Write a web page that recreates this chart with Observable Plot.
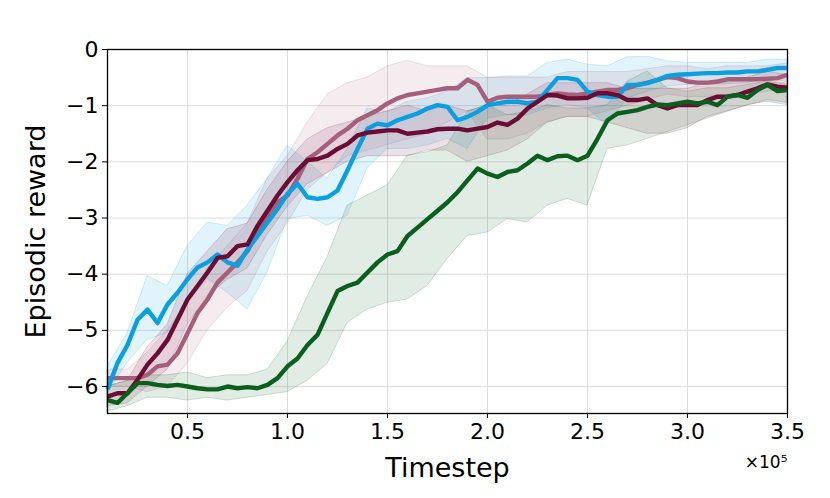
<!DOCTYPE html>
<html>
<head>
<meta charset="utf-8">
<script src="https://cdn.jsdelivr.net/npm/d3@7"></script>
<script src="https://cdn.jsdelivr.net/npm/@observablehq/plot@0.6"></script>
<style>
  html, body { margin: 0; padding: 0; background: #fff; }
  #chart { width: 830px; height: 498px; }
</style>
</head>
<body>
<div id="chart"></div>
<script>
// Timesteps (×10^5) for the mean curves
const lineT = [0.10,0.15,0.20,0.25,0.30,0.35,0.40,0.45,0.50,0.55,0.60,0.65,0.70,0.75,0.80,0.85,0.90,0.95,
  1.00,1.05,1.10,1.15,1.20,1.25,1.30,1.35,1.40,1.45,1.50,1.55,1.60,1.65,1.70,1.75,1.80,1.85,1.90,1.95,
  2.00,2.05,2.10,2.15,2.20,2.25,2.30,2.35,2.40,2.45,2.50,2.55,2.60,2.65,2.70,2.75,2.80,2.85,2.90,2.95,
  3.00,3.05,3.10,3.15,3.20,3.25,3.30,3.35,3.40,3.45,3.50];

const blueMean = [-6.05,-5.58,-5.26,-4.81,-4.63,-4.87,-4.54,-4.33,-4.09,-3.88,-3.79,-3.65,-3.79,-3.85,-3.56,-3.32,-3.08,-2.84,
  -2.57,-2.39,-2.63,-2.66,-2.63,-2.51,-2.15,-1.77,-1.41,-1.32,-1.35,-1.26,-1.20,-1.14,-1.05,-0.99,-1.02,-1.26,-1.20,-1.11,
  -0.99,-0.96,-0.93,-0.93,-0.96,-0.93,-0.72,-0.51,-0.51,-0.54,-0.75,-0.81,-0.84,-0.84,-0.63,-0.63,-0.60,-0.54,-0.47,-0.45,
  -0.44,-0.43,-0.42,-0.42,-0.41,-0.41,-0.39,-0.39,-0.36,-0.33,-0.33];

const maroonMean = [-6.18,-6.12,-6.12,-5.88,-5.61,-5.41,-5.17,-4.81,-4.45,-4.21,-3.97,-3.71,-3.68,-3.50,-3.47,-3.14,-2.87,-2.60,
  -2.36,-2.15,-1.97,-1.95,-1.89,-1.77,-1.68,-1.53,-1.48,-1.46,-1.44,-1.44,-1.50,-1.48,-1.46,-1.42,-1.41,-1.41,-1.44,-1.41,
  -1.38,-1.30,-1.34,-1.23,-1.05,-0.93,-0.81,-0.82,-0.87,-0.87,-0.86,-0.78,-0.78,-0.81,-0.90,-0.90,-0.87,-0.99,-1.05,-0.99,
  -0.99,-0.99,-0.90,-0.84,-0.84,-0.81,-0.75,-0.69,-0.62,-0.66,-0.68];

const mauveMean = [-5.85,-5.85,-5.85,-5.85,-5.79,-5.64,-5.61,-5.41,-5.05,-4.69,-4.45,-4.15,-3.97,-3.79,-3.59,-3.23,-2.96,-2.72,
  -2.60,-2.30,-1.95,-1.83,-1.68,-1.53,-1.41,-1.26,-1.17,-1.08,-0.96,-0.87,-0.81,-0.78,-0.75,-0.72,-0.69,-0.69,-0.54,-0.63,
  -0.93,-0.86,-0.84,-0.84,-0.84,-0.84,-0.81,-0.78,-0.80,-0.81,-0.78,-0.75,-0.72,-0.72,-0.69,-0.63,-0.59,-0.54,-0.49,-0.51,
  -0.57,-0.59,-0.59,-0.57,-0.53,-0.53,-0.53,-0.53,-0.52,-0.51,-0.45];

const greenMean = [-6.24,-6.29,-6.12,-5.94,-5.94,-5.97,-5.99,-5.97,-6.00,-6.03,-6.05,-6.05,-6.00,-6.03,-6.01,-6.03,-5.97,-5.85,
  -5.64,-5.50,-5.26,-5.08,-4.69,-4.30,-4.21,-4.15,-3.97,-3.79,-3.65,-3.59,-3.32,-3.17,-3.02,-2.87,-2.72,-2.54,-2.33,-2.12,
  -2.21,-2.27,-2.18,-2.15,-2.03,-1.89,-1.97,-1.90,-1.89,-1.97,-1.89,-1.59,-1.26,-1.14,-1.11,-1.08,-1.02,-0.98,-0.99,-0.96,
  -0.93,-0.96,-0.93,-0.99,-0.84,-0.81,-0.86,-0.72,-0.63,-0.74,-0.72];

// Timesteps (×10^5) for the shaded spread bands
const bandT = [0.1,0.2,0.3,0.4,0.5,0.6,0.7,0.8,0.9,1.0,1.1,1.2,1.3,1.4,1.5,1.6,1.7,1.8,1.9,2.0,
  2.1,2.2,2.3,2.4,2.5,2.6,2.7,2.8,2.9,3.0,3.1,3.2,3.3,3.4,3.5];

const blueLo = [-6.12,-5.58,-5.17,-5.05,-4.51,-4.09,-4.33,-4.63,-3.97,-3.02,-2.96,-3.14,-2.96,-2.12,-1.77,-1.77,-1.71,-1.59,-1.77,-1.23,
  -1.17,-1.17,-1.05,-0.99,-1.05,-1.35,-0.87,-0.75,-0.66,-0.63,-0.63,-0.62,-0.60,-0.51,-0.51];
const blueHi = [-5.65,-5.05,-4.03,-4.21,-3.50,-3.08,-3.14,-2.78,-2.30,-1.71,-2.00,-2.30,-1.77,-1.05,-1.11,-0.93,-0.87,-0.75,-0.51,-0.51,
  -0.48,-0.48,-0.24,-0.18,-0.27,-0.30,-0.14,-0.13,-0.21,-0.24,-0.24,-0.24,-0.24,-0.18,-0.18];

const maroonLo = [-6.35,-6.30,-6.00,-5.70,-4.90,-4.40,-4.10,-3.90,-3.30,-2.80,-2.40,-2.20,-2.00,-1.90,-1.90,-1.90,-1.80,-1.80,-2.00,-1.90,
  -1.80,-1.60,-1.30,-1.20,-1.20,-1.30,-1.40,-1.50,-1.50,-1.40,-1.20,-1.10,-1.00,-0.90,-0.95];
const maroonHi = [-6.00,-5.90,-5.30,-4.90,-4.00,-3.60,-3.20,-3.10,-2.50,-2.00,-1.60,-1.40,-1.30,-1.20,-1.10,-1.00,-1.10,-1.00,-1.10,-1.00,
  -1.00,-0.80,-0.60,-0.60,-0.60,-0.60,-0.70,-0.70,-0.70,-0.70,-0.60,-0.60,-0.50,-0.40,-0.45];

const mauveLo = [-6.00,-6.00,-6.10,-6.00,-5.60,-5.00,-4.60,-4.30,-3.60,-3.10,-2.50,-2.20,-1.90,-1.80,-1.70,-1.60,-1.50,-1.30,-1.10,-1.60,
  -1.60,-1.50,-1.30,-1.20,-1.20,-1.10,-1.00,-0.90,-0.80,-0.85,-0.85,-0.80,-0.80,-0.75,-0.70];
const mauveHi = [-5.70,-5.70,-5.40,-5.00,-4.50,-3.90,-3.50,-3.10,-2.30,-1.90,-1.30,-0.80,-0.60,-0.50,-0.30,-0.20,-0.30,-0.30,-0.30,-0.50,
  -0.50,-0.50,-0.50,-0.40,-0.40,-0.40,-0.40,-0.35,-0.30,-0.30,-0.35,-0.30,-0.30,-0.30,-0.25];

const greenLo = [-6.45,-6.35,-6.20,-6.20,-6.25,-6.20,-6.25,-6.20,-6.15,-6.10,-5.90,-5.60,-4.87,-4.63,-4.51,-4.45,-4.21,-3.73,-3.32,-3.26,
  -3.02,-3.08,-2.78,-2.66,-2.78,-1.77,-1.71,-1.59,-1.47,-1.35,-1.23,-1.11,-0.99,-0.93,-0.99];
const greenHi = [-6.00,-5.90,-5.80,-5.80,-5.75,-5.85,-5.80,-5.80,-5.70,-5.20,-4.40,-3.70,-2.78,-2.60,-2.42,-1.89,-1.83,-1.71,-1.11,-0.99,
  -1.17,-1.11,-0.99,-1.05,-1.05,-0.99,-0.57,-0.39,-0.69,-0.75,-0.69,-0.69,-0.63,-0.57,-0.63];

const xTicks = [0.5, 1.0, 1.5, 2.0, 2.5, 3.0, 3.5];
const yTicks = [-6, -5, -4, -3, -2, -1, 0];

const colors = { blue: "#0a9fe0", maroon: "#6a0c34", mauve: "#a65f7b", green: "#0a5f1f" };

const lineRows = (vals) => lineT.map((t, i) => ({ t, v: vals[i] }));
const bandRows = (lo, hi) => bandT.map((t, i) => ({ t, lo: lo[i], hi: hi[i] }));

const band = (lo, hi, c) => Plot.areaY(bandRows(lo, hi), {
  x: "t", y1: "lo", y2: "hi", fill: c, fillOpacity: 0.12,
  stroke: c, strokeOpacity: 0.18, strokeWidth: 1
});
const line = (vals, c) => Plot.lineY(lineRows(vals), {
  x: "t", y: "v", stroke: c, strokeWidth: 4.4, strokeLinejoin: "round", strokeLinecap: "butt"
});

const fmtX = d3.format(".1f");
const fmtY = d3.format("d");

const chart = Plot.plot({
  width: 830,
  height: 498,
  marginLeft: 107,
  marginRight: 43,
  marginTop: 49,
  marginBottom: 85,
  style: { fontFamily: "DejaVu Sans", color: "black", background: "white", overflow: "visible" },
  x: { domain: [0.1, 3.5] },
  y: { domain: [-6.48, 0] },
  marks: [
    Plot.gridX(xTicks, { stroke: "#dcdcdc", strokeOpacity: 1, strokeWidth: 1 }),
    Plot.gridY(yTicks, { stroke: "#dcdcdc", strokeOpacity: 1, strokeWidth: 1 }),
    band(blueLo, blueHi, colors.blue),
    band(maroonLo, maroonHi, colors.maroon),
    band(mauveLo, mauveHi, colors.mauve),
    band(greenLo, greenHi, colors.green),
    line(mauveMean, colors.mauve),
    line(blueMean, colors.blue),
    line(maroonMean, colors.maroon),
    line(greenMean, colors.green),
    Plot.frame({ stroke: "black", strokeWidth: 1.3 }),
    Plot.axisX(xTicks, { tickSize: 5, tickFormat: () => "", label: null }),
    Plot.axisY(yTicks, { tickSize: 5, tickFormat: () => "", label: null }),
    Plot.text(xTicks, { x: d => d, frameAnchor: "bottom", lineAnchor: "top", dy: 10, fontSize: 22, fill: "black", text: d => fmtX(d) }),
    Plot.text(yTicks, { y: d => d, frameAnchor: "left", textAnchor: "end", lineAnchor: "middle", dx: -9, fontSize: 22, fill: "black", text: d => fmtY(d) }),
    Plot.text(["Timestep"], { frameAnchor: "bottom", lineAnchor: "middle", dy: 55, fontSize: 27, fill: "black" }),
    Plot.text(["Episodic reward"], { frameAnchor: "left", textAnchor: "middle", lineAnchor: "middle", dx: -71, rotate: -90, fontSize: 27, fill: "black" }),
    Plot.text(["×10⁵"], { frameAnchor: "bottom-right", textAnchor: "end", lineAnchor: "middle", dx: 0, dy: 49, fontSize: 17, fill: "black" })
  ]
});

document.getElementById("chart").appendChild(chart);
</script>
</body>
</html>
